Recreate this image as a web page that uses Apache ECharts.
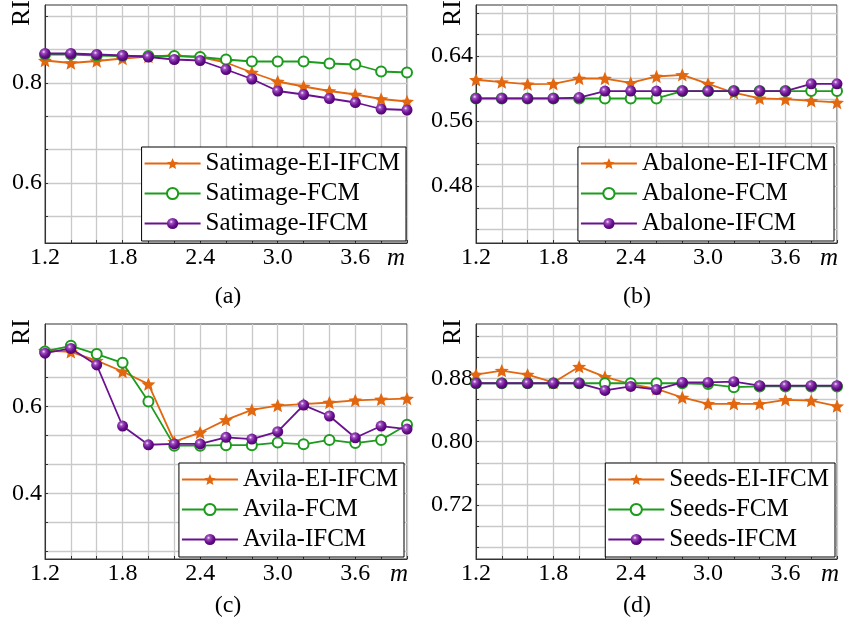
<!DOCTYPE html>
<html>
<head>
<meta charset="utf-8">
<script src="https://cdn.jsdelivr.net/npm/echarts@6/dist/echarts.min.js"></script>
<style>
  html, body { margin: 0; padding: 0; background: #fff; }
  #chart { width: 849px; height: 630px; }
</style>
</head>
<body>
<div id="chart"></div>
<script>
// fuzzifier m on the x axis, RI on the y axis
const mValues = [1.2, 1.4, 1.6, 1.8, 2.0, 2.2, 2.4, 2.6, 2.8, 3.0, 3.2, 3.4, 3.6, 3.8, 4.0]
const xLabels = [1.2, 1.8, 2.4, 3.0, 3.6]

const satimageEI = [0.845, 0.840, 0.844, 0.849, 0.853, 0.855, 0.852, 0.841, 0.821, 0.803, 0.793, 0.784, 0.777, 0.768, 0.763]
const satimageFCM = [0.857, 0.857, 0.855, 0.854, 0.854, 0.854, 0.852, 0.847, 0.843, 0.843, 0.843, 0.839, 0.837, 0.823, 0.821]
const satimageIFCM = [0.859, 0.859, 0.857, 0.855, 0.852, 0.847, 0.845, 0.827, 0.808, 0.784, 0.777, 0.769, 0.761, 0.748, 0.746]

const abaloneEI = [0.611, 0.608, 0.6055, 0.606, 0.6125, 0.6125, 0.607, 0.615, 0.617, 0.606, 0.595, 0.588, 0.587, 0.585, 0.583]
const abaloneFCM = [0.588, 0.588, 0.588, 0.588, 0.588, 0.588, 0.588, 0.588, 0.597, 0.597, 0.597, 0.597, 0.597, 0.597, 0.597]
const abaloneIFCM = [0.588, 0.588, 0.588, 0.588, 0.589, 0.597, 0.597, 0.597, 0.597, 0.597, 0.597, 0.597, 0.597, 0.606, 0.606]

const avilaEI = [0.728, 0.725, 0.705, 0.680, 0.651, 0.519, 0.540, 0.569, 0.592, 0.602, 0.605, 0.609, 0.614, 0.616, 0.618]
const avilaFCM = [0.726, 0.739, 0.720, 0.700, 0.611, 0.510, 0.510, 0.511, 0.511, 0.517, 0.513, 0.523, 0.516, 0.523, 0.558]
const avilaIFCM = [0.722, 0.733, 0.695, 0.555, 0.512, 0.514, 0.514, 0.529, 0.525, 0.542, 0.603, 0.578, 0.528, 0.555, 0.548]

const seedsEI = [0.885, 0.890, 0.885, 0.875, 0.895, 0.882, 0.873, 0.867, 0.856, 0.848, 0.848, 0.848, 0.853, 0.852, 0.845]
const seedsFCM = [0.874, 0.874, 0.874, 0.874, 0.874, 0.874, 0.874, 0.874, 0.874, 0.873, 0.869, 0.870, 0.870, 0.870, 0.870]
const seedsIFCM = [0.874, 0.874, 0.874, 0.874, 0.874, 0.865, 0.870, 0.866, 0.875, 0.875, 0.876, 0.871, 0.871, 0.871, 0.871]

const yLabelsA = [0.6, 0.8]
const yLabelsB = [0.48, 0.56, 0.64]
const yLabelsC = [0.4, 0.6]
const yLabelsD = [0.72, 0.80, 0.88]

const font = '"Liberation Serif", "Times New Roman", serif'
const colors = { ei: '#e2670f', fcm: '#1c9b1c', ifcm: '#6a1190' }
const starPath = 'path://M0,-10L2.645,-3.641L9.511,-3.09L4.28,1.391L5.878,8.09L0,4.5L-5.878,8.09L-4.28,1.391L-9.511,-3.09L-2.645,-3.641Z'
const sphere = {
  type: 'radial', x: 0.38, y: 0.35, r: 0.7,
  colorStops: [
    { offset: 0, color: '#f5e8ff' },
    { offset: 0.22, color: '#a050c0' },
    { offset: 0.6, color: '#6a1190' },
    { offset: 1, color: '#4a0068' }
  ]
}

const panels = [
  { left: 45, top: 5, width: 362, height: 238, yMin: 0.48, yMax: 0.956, yStep: 0.2 / 3, yLabels: yLabelsA, digits: 1,
    caption: '(a)', capX: 228, capY: 297, mX: 396, legendRight: 443, legendBottom: 389,
    names: ['Satimage-EI-IFCM', 'Satimage-FCM', 'Satimage-IFCM'], data: [satimageEI, satimageFCM, satimageIFCM] },
  { left: 476, top: 5, width: 361, height: 238, yMin: 0.41, yMax: 0.703, yStep: 0.08 / 3, yLabels: yLabelsB, digits: 2,
    caption: '(b)', capX: 637, capY: 297, mX: 829, legendRight: 15, legendBottom: 389,
    names: ['Abalone-EI-IFCM', 'Abalone-FCM', 'Abalone-IFCM'], data: [abaloneEI, abaloneFCM, abaloneIFCM] },
  { left: 45, top: 324, width: 362, height: 235, yMin: 0.25, yMax: 0.789, yStep: 0.2 / 3, yLabels: yLabelsC, digits: 1,
    caption: '(c)', capX: 228, capY: 606, mX: 399, legendRight: 445, legendBottom: 73,
    names: ['Avila-EI-IFCM', 'Avila-FCM', 'Avila-IFCM'], data: [avilaEI, avilaFCM, avilaIFCM] },
  { left: 476, top: 324, width: 361, height: 235, yMin: 0.6516, yMax: 0.949, yStep: 0.08 / 3, yLabels: yLabelsD, digits: 2,
    caption: '(d)', capX: 637, capY: 606, mX: 830, legendRight: 14, legendBottom: 73,
    names: ['Seeds-EI-IFCM', 'Seeds-FCM', 'Seeds-IFCM'], data: [seedsEI, seedsFCM, seedsIFCM] }
]

// every grid line position: anchor + k * step inside [min, max]
function stepTicks (anchor, step, min, max) {
  let out = []
  let kMin = Math.ceil((min - anchor) / step - 1e-6)
  let kMax = Math.floor((max - anchor) / step + 1e-6)
  for (let k = kMin; k <= kMax; k++) out.push(+(anchor + k * step).toFixed(6))
  return out
}

const xTicks = stepTicks(1.2, 0.2, 1.2, 4.0)

let grids = []
let xAxes = []
let yAxes = []
let series = []
let legends = []
let graphics = []

panels.forEach((p, i) => {
  let yTicks = stepTicks(p.yLabels[0], p.yStep, p.yMin, p.yMax)
  grids.push({ left: p.left, top: p.top, width: p.width, height: p.height, show: true, borderColor: '#333', borderWidth: 1, backgroundColor: 'transparent' })

  xAxes.push({
    type: 'value', gridIndex: i, min: 1.2, max: 4.0,
    axisLine: { show: true, onZero: false, lineStyle: { color: '#333', width: 1 } },
    axisTick: { show: true, inside: true, length: 3, customValues: xTicks, lineStyle: { color: '#333' } },
    axisLabel: { customValues: xLabels, formatter: v => v.toFixed(1), fontFamily: font, fontSize: 24, color: '#000', margin: 3 },
    splitLine: { show: true, lineStyle: { color: '#c9c9c9', width: 1.3 } }
  })
  yAxes.push({
    type: 'value', gridIndex: i, min: p.yMin, max: p.yMax,
    axisLine: { show: true, onZero: false, lineStyle: { color: '#333', width: 1 } },
    axisTick: { show: true, inside: true, length: 3, customValues: yTicks, lineStyle: { color: '#333' } },
    axisLabel: { customValues: p.yLabels, formatter: v => v.toFixed(p.digits), fontFamily: font, fontSize: 24, color: '#000', margin: 3 },
    splitLine: { show: true, lineStyle: { color: '#c9c9c9', width: 1.3 } }
  })

  const kinds = ['ei', 'fcm', 'ifcm']
  p.names.forEach((name, j) => {
    let s = {
      name: name, type: 'line', xAxisIndex: i, yAxisIndex: i,
      data: mValues.map((m, k) => [m, p.data[j][k]]),
      lineStyle: { width: 1.8, color: colors[kinds[j]] },
      z: 2 + j
    }
    if (kinds[j] === 'ei') {
      s.symbol = starPath
      s.symbolSize = 14
      s.symbolKeepAspect = true
      s.itemStyle = { color: colors.ei }
    } else if (kinds[j] === 'fcm') {
      s.symbol = 'emptyCircle'
      s.symbolSize = 10
      s.itemStyle = { color: colors.fcm, borderColor: colors.fcm, borderWidth: 1.2 }
    } else {
      s.symbol = 'circle'
      s.symbolSize = 11
      s.itemStyle = { color: sphere }
    }
    series.push(s)
  })

  legends.push({
    data: p.names, orient: 'vertical', right: p.legendRight, bottom: p.legendBottom,
    itemWidth: 56, itemHeight: 14, itemGap: 5, padding: [4, 6, 5, 2],
    backgroundColor: '#fff', borderColor: '#000', borderWidth: 1,
    textStyle: { fontFamily: font, fontSize: 25, color: '#000' },
    selectedMode: false
  })

  graphics.push({
    type: 'text', x: p.left - 10, y: p.top - 5, rotation: Math.PI / 2,
    style: { text: 'RI', font: '26px ' + font, fill: '#000', align: 'right', verticalAlign: 'bottom' }
  })
  graphics.push({
    type: 'text', x: p.mX, y: p.top + p.height + 15,
    style: { text: 'm', font: 'italic 25px ' + font, fill: '#000', align: 'center', verticalAlign: 'middle' }
  })
  graphics.push({
    type: 'text', x: p.capX, y: p.capY,
    style: { text: p.caption, font: '24px ' + font, fill: '#000', align: 'center', verticalAlign: 'middle' }
  })
})

let myChart = echarts.init(document.getElementById('chart'))
myChart.setOption({
  animation: false,
  backgroundColor: '#fff',
  grid: grids,
  xAxis: xAxes,
  yAxis: yAxes,
  legend: legends,
  series: series,
  graphic: graphics
})
</script>
</body>
</html>
